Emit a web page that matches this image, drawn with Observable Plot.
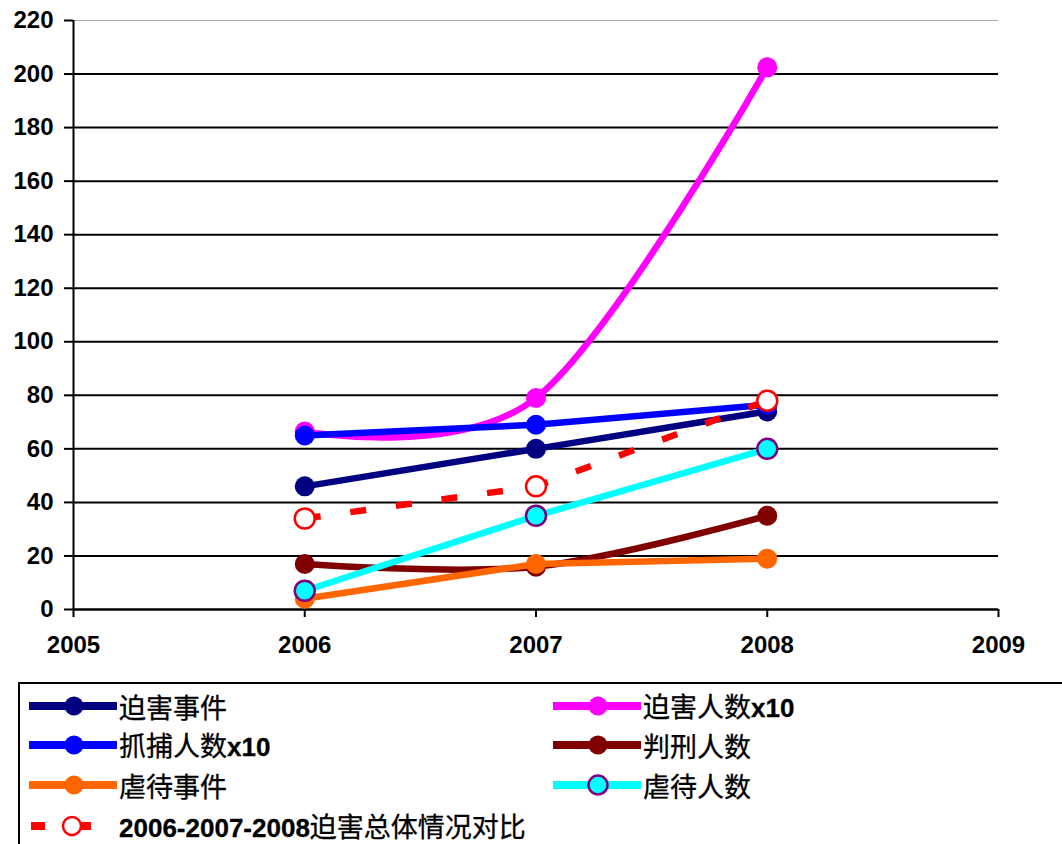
<!DOCTYPE html>
<html><head><meta charset="utf-8">
<script src="https://cdn.jsdelivr.net/npm/d3@7"></script>
<script src="https://cdn.jsdelivr.net/npm/@observablehq/plot@0.6"></script>
<style>
body{margin:0;background:#fff;width:1062px;height:844px;overflow:hidden;position:relative;font-family:"Liberation Sans","Noto Sans CJK SC",sans-serif;}
#chart{position:absolute;left:0;top:0;}
#legend{position:absolute;left:18px;top:682px;width:1100px;height:200px;border:2px solid #000;box-sizing:border-box;background:#fff;}
.item{position:absolute;display:flex;align-items:center;height:32px;}
.item svg{display:block;flex:none;}
.item span{font-size:27px;color:#000;font-family:"Noto Sans CJK SC","Liberation Sans",sans-serif;white-space:nowrap;line-height:1;-webkit-text-stroke:0.3px #000;}
.item b{font-family:"Liberation Sans",sans-serif;font-weight:bold;font-size:26px;}
</style></head><body>
<div id="chart"></div><div id="legend"></div>
<script>
// ---- data ----
const years = [2006, 2007, 2008];
const seriesNames = ["迫害事件", "迫害人数x10", "抓捕人数x10", "判刑人数", "虐待事件", "虐待人数", "2006-2007-2008迫害总体情况对比"];
const persecutionEvents = [46, 60, 74];
const persecutedPeopleX10 = [66.5, 79, 202.5];
const arrestsX10 = [65, 69, 76.5];
const sentenced = [17, 16, 35];
const abuseEvents = [4, 17, 19];
const abusedPeople = [7, 35, 60];
const overallComparison = [34, 46, 78];
const xTicks = [2005, 2006, 2007, 2008, 2009];
const yTicks = [0, 20, 40, 60, 80, 100, 120, 140, 160, 180, 200, 220];

// ---- styles ----
const seriesValues = [persecutionEvents, persecutedPeopleX10, arrestsX10, sentenced, abuseEvents, abusedPeople, overallComparison];
const styles = [
  {stroke: "#000080", fill: "#000080", mstroke: "none", curve: "linear"},
  {stroke: "#FF00FF", fill: "#FF00FF", mstroke: "none", curve: "cardinal"},
  {stroke: "#0000FF", fill: "#0000FF", mstroke: "none", curve: "linear"},
  {stroke: "#800000", fill: "#800000", mstroke: "none", curve: "cardinal"},
  {stroke: "#FF6600", fill: "#FF6600", mstroke: "none", curve: "linear"},
  {stroke: "#00FFFF", fill: "#00FFFF", mstroke: "#800080", curve: "linear"},
  {stroke: "#FF0000", fill: "#FFFFFF", mstroke: "#FF0000", curve: "linear", dash: "16,30"}
];

const marks = [];
// gridlines
marks.push(Plot.ruleY(yTicks.filter(v => v > 0 && v < 220), {stroke: "#000", strokeWidth: 2}));
marks.push(Plot.ruleY([220], {stroke: "#aaa", strokeWidth: 1}));
// axes
marks.push(Plot.axisY(yTicks, {label: null, tickSize: 9, tickPadding: 11, fontSize: 24, fontWeight: "bold", strokeWidth: 2, stroke: "#000", fill: "#000"}));
marks.push(Plot.axisX(xTicks, {label: null, tickFormat: "d", tickSize: 8, tickPadding: 18, fontSize: 24, fontWeight: "bold", strokeWidth: 2, stroke: "#000", fill: "#000"}));
marks.push(Plot.ruleX([2005], {stroke: "#000", strokeWidth: 2}));
marks.push(Plot.ruleY([0], {stroke: "#000", strokeWidth: 2.5}));

seriesValues.forEach((vals, i) => {
  const s = styles[i];
  const data = years.map((yr, j) => ({year: yr, value: vals[j]}));
  marks.push(Plot.line(data, {x: "year", y: "value", stroke: s.stroke, strokeWidth: 6.5, curve: s.curve, strokeDasharray: s.dash, strokeLinecap: s.dash ? "butt" : "round"}));
  marks.push(Plot.dot(data, {x: "year", y: "value", r: 10, fill: s.fill, stroke: s.mstroke === "none" ? null : s.mstroke, strokeWidth: 2.5}));
});

const chart = Plot.plot({
  width: 1062, height: 670,
  marginLeft: 73, marginRight: 64, marginTop: 20, marginBottom: 61,
  style: {fontFamily: "Liberation Sans, Arial, sans-serif", background: "#fff", color: "#000"},
  x: {domain: [2005, 2009], label: null},
  y: {domain: [0, 220], label: null},
  marks
});
document.getElementById("chart").appendChild(chart);

// ---- legend (HTML below the chart) ----
const legend = document.getElementById("legend");
const rowY = [22, 61, 101, 142];
const colX = [9, 533];
function richText(t) {
  return t.replace(/[A-Za-z0-9\-]+/g, m => `<b>${m}</b>`);
}
seriesNames.forEach((name, i) => {
  const s = styles[i];
  const row = Math.floor(i / 2), col = i % 2;
  const div = document.createElement("div");
  div.className = "item";
  div.style.left = colX[col] + "px";
  div.style.top = (rowY[row] - 16) + "px";
  const W = 90, cy = 16;
  let sample;
  if (s.dash) {
    sample = `<svg width="${W}" height="32"><line x1="2" x2="16" y1="${cy}" y2="${cy}" stroke="${s.stroke}" stroke-width="8"/><line x1="48" x2="62" y1="${cy}" y2="${cy}" stroke="${s.stroke}" stroke-width="8"/><circle cx="43" cy="${cy}" r="9" fill="#fff" stroke="${s.stroke}" stroke-width="2.5"/></svg>`;
  } else {
    sample = `<svg width="${W}" height="32"><line x1="0" x2="${W - 2}" y1="${cy}" y2="${cy}" stroke="${s.stroke}" stroke-width="8"/><circle cx="${W / 2}" cy="${cy}" r="9.5" fill="${s.fill}" ${s.mstroke !== "none" ? `stroke="${s.mstroke}" stroke-width="2.5"` : ""}/></svg>`;
  }
  div.innerHTML = sample + `<span>${richText(name)}</span>`;
  legend.appendChild(div);
});
</script>
</body></html>
